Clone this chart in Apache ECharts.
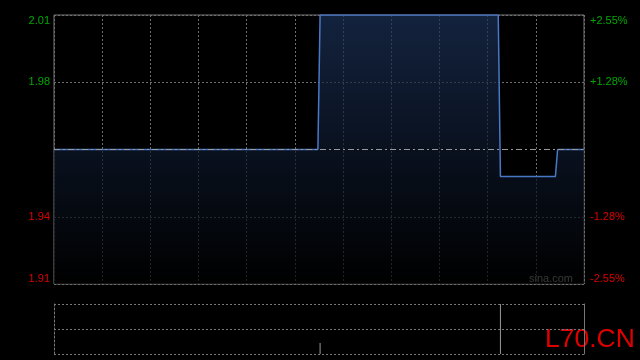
<!DOCTYPE html>
<html>
<head>
<meta charset="utf-8">
<style>html,body{margin:0;padding:0;background:#000;}#c{width:640px;height:360px;}</style>
<script src="https://cdn.jsdelivr.net/npm/echarts@6/dist/echarts.min.js"></script>
</head>
<body>
<div id="c"></div>
<script>
// ---- data ----
var prevClose = 1.96;
var minuteCount = 241;              // last minute index of the session
var priceMinutes = [0, 120, 121, 202, 203, 228, 229, 241];
var priceValues  = [1.96, 1.96, 2.01, 2.01, 1.95, 1.95, 1.96, 1.96];
var volumeMinutes = [121, 203];
var volumeValues  = [4400, 20000];
var pctTicks = [-255, -127.5, 0, 127.5, 255]; // basis points: -2.55% .. +2.55%

var priceData = priceMinutes.map(function (m, i) {
  return [m, (priceValues[i] / prevClose - 1) * 10000];
});
var volumeData = volumeMinutes.map(function (m, i) { return [m, volumeValues[i]]; });
var volMax = Math.max.apply(null, volumeValues);

var FONT = "'Liberation Sans', Arial, sans-serif";
var GREEN = '#00a800', RED = '#dd0000';
function colorOf(v) { v = Number(v); return v > 0 ? GREEN : (v < 0 ? RED : '#888'); }
function wrap(v, s) {
  v = Number(v);
  if (v >= pctTicks[4] - 0.01) return '\n' + s;
  if (v <= pctTicks[0] + 0.01) return s + '\n';
  return s;
}

var chart = echarts.init(document.getElementById('c'), null, { renderer: 'canvas' });
chart.setOption({
  backgroundColor: '#000',
  animation: false,
  grid: [
    { left: 54, top: 15, width: 530, height: 269, show: true, borderColor: '#777', borderWidth: 1, backgroundColor: 'transparent' },
    { left: 54, top: 304, width: 530, height: 50, show: false }
  ],
  xAxis: [
    { type: 'value', gridIndex: 0, min: 0, max: minuteCount, interval: minuteCount / 11,
      axisLine: { show: false }, axisTick: { show: false }, axisLabel: { show: false },
      splitLine: { show: true, lineStyle: { color: '#6e6e6e', type: [2, 2], width: 1 } } },
    { type: 'value', gridIndex: 1, min: 0, max: minuteCount,
      axisLine: { show: false }, axisTick: { show: false }, axisLabel: { show: false },
      splitLine: { show: false } }
  ],
  yAxis: [
    { type: 'value', gridIndex: 0, position: 'left', min: pctTicks[0], max: pctTicks[4], interval: 127.5,
      axisLine: { show: false }, axisTick: { show: false },
      splitLine: { show: true, lineStyle: { color: ['#6e6e6e', '#6e6e6e', 'rgba(0,0,0,0)', '#6e6e6e', '#6e6e6e'], type: [2, 2], width: 1 } },
      axisLabel: { margin: 4, fontFamily: FONT, fontSize: 11, lineHeight: 11,
        color: function (v) { return colorOf(v); },
        formatter: function (v) {
          if (Math.abs(v) < 1e-6) return '';
          return wrap(v, (prevClose * (1 + v / 10000)).toFixed(2));
        } } },
    { type: 'value', gridIndex: 0, position: 'right', min: pctTicks[0], max: pctTicks[4], interval: 127.5,
      axisLine: { show: false }, axisTick: { show: false }, splitLine: { show: false },
      axisLabel: { margin: 6, fontFamily: FONT, fontSize: 11, lineHeight: 11,
        color: function (v) { return colorOf(v); },
        formatter: function (v) {
          if (Math.abs(v) < 1e-6) return '';
          var s = (v > 0 ? '+' : '-') + (Math.round(Math.abs(v)) / 100).toFixed(2) + '%';
          return wrap(v, s);
        } } },
    { type: 'value', gridIndex: 1, position: 'left', min: 0, max: volMax, interval: volMax / 2,
      axisLine: { show: true, lineStyle: { color: '#777', type: [2, 2] } },
      axisTick: { show: false }, axisLabel: { show: false },
      splitLine: { show: true, lineStyle: { color: '#777', type: [2, 2], width: 1 } } },
    { type: 'value', gridIndex: 1, position: 'right', min: 0, max: volMax,
      axisLine: { show: true, lineStyle: { color: '#777' } },
      axisTick: { show: false }, axisLabel: { show: false }, splitLine: { show: false } }
  ],
  series: [
    { type: 'line', xAxisIndex: 0, yAxisIndex: 0, data: priceData,
      symbol: 'none', lineStyle: { color: '#4a78c8', width: 1.5 },
      areaStyle: { origin: 'start', color: new echarts.graphic.LinearGradient(0, 0, 0, 1, [
        { offset: 0, color: '#1b3158' }, { offset: 1, color: '#000000' }]) },
      markLine: { silent: true, symbol: 'none', label: { show: false },
        lineStyle: { color: '#999', width: 1, type: [6, 3, 2, 3] },
        data: [{ yAxis: 0 }] } },
    { type: 'bar', xAxisIndex: 1, yAxisIndex: 2, data: volumeData, barWidth: 1,
      itemStyle: { color: '#999' } }
  ],
  graphic: [
    { type: 'text', right: 640 - 573, top: 273,
      style: { text: 'sina.com', fill: '#b0b0b0', font: '11px ' + FONT } },
    { type: 'text', left: 545, top: 326,
      style: { text: 'L70.CN', fill: '#e00000', font: '26.5px ' + FONT } }
  ]
});
</script>
</body>
</html>
